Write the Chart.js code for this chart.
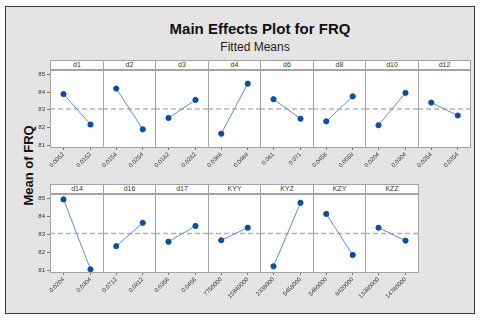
<!DOCTYPE html>
<html>
<head>
<meta charset="utf-8">
<script src="https://cdn.jsdelivr.net/npm/chart.js@4.4.0/dist/chart.umd.min.js"></script>
<style>
  body { margin: 0; background: #fff; font-family: "Liberation Sans", Arial, sans-serif; }
  #frame { position: absolute; left: 5px; top: 6px; width: 468px; height: 306px; background: #e4e4e4; border: 1px solid #3a3a3a; }
  .txt { position: absolute; text-align: center; color: #111; white-space: nowrap; }
  .strip { position: absolute; box-sizing: border-box; height: 10px; background: #fff; border: 1px solid #a4a4a4;
           font-size: 7px; line-height: 8px; text-align: center; color: #333; }
  .panel { position: absolute; }
</style>
</head>
<body>
<div id="frame"></div>
<div class="txt" style="left:0;width:520px;top:20px;font-size:15px;font-weight:bold;">Main Effects Plot for FRQ</div>
<div class="txt" style="left:0;width:510px;top:40px;font-size:12px;color:#222;">Fitted Means</div>
<div class="txt" style="left:-12px;width:80px;top:158px;font-size:13px;font-weight:bold;transform:rotate(-90deg);">Mean of FRQ</div>
<div id="panels"></div>

<script>
// factors, in the order of the panels
const factors = ['d1', 'd2', 'd3', 'd4', 'd6', 'd8', 'd10', 'd12',
                 'd14', 'd16', 'd17', 'KYY', 'KYZ', 'KZY', 'KZZ'];
// level labels (low / high) for each factor
const lowLevels  = ['0.0052', '0.0154', '0.0182', '0.0368', '0.061', '0.0458', '0.0204', '0.0254',
                    '0.0204', '0.0712', '0.0356', '7750000', '2338000', '5460000', '13380000'];
const highLevels = ['0.0152', '0.0254', '0.0282', '0.0468', '0.071', '0.0558', '0.0304', '0.0354',
                    '0.0304', '0.0812', '0.0456', '15940000', '5458000', '8420000', '14780000'];
// fitted means of FRQ at each level
const lowMeans  = [83.89, 84.20, 82.54, 81.65, 83.60, 82.35, 82.13, 83.41,
                   84.95, 82.34, 82.59, 82.67, 81.22, 84.14, 83.37];
const highMeans = [82.17, 81.90, 83.56, 84.48, 82.50, 83.76, 83.96, 82.68,
                   81.05, 83.64, 83.47, 83.37, 84.76, 81.85, 82.65];
const grandMean = 83.05;
const yTicks = [81, 82, 83, 84, 85];

const perRow = 8;
const rowTops = [70, 194];
const plotHeights = [77, 78];
const axisW = 22;      // room left of each plot (y axis on the first panel)
const xAxisH = 30;     // room for the rotated level labels

const blue = '#0a4fa3';
const lineBlue = '#5c8fd2';
const frameGray = '#a4a4a4';

// white plot area, border and the dashed grand mean line
const panelPlugin = {
    id: 'panelDeco',
    beforeDraw(chart) {
        const a = chart.chartArea, ctx = chart.ctx;
        ctx.save();
        ctx.fillStyle = '#fff';
        ctx.fillRect(a.left, a.top, a.right - a.left, a.bottom - a.top);
        const y = chart.scales.y.getPixelForValue(grandMean);
        ctx.strokeStyle = '#b4b4b4';
        ctx.lineWidth = 1.5;
        ctx.setLineDash([5, 3]);
        ctx.beginPath();
        ctx.moveTo(a.left, y);
        ctx.lineTo(a.right, y);
        ctx.stroke();
        ctx.restore();
    },
    afterDraw(chart) {
        const a = chart.chartArea, ctx = chart.ctx;
        ctx.save();
        ctx.strokeStyle = frameGray;
        ctx.lineWidth = 1;
        ctx.strokeRect(a.left + 0.5, a.top + 0.5, a.right - a.left - 1, a.bottom - a.top);
        ctx.restore();
    }
};

function makePanel(i) {
    const row = Math.floor(i / perRow);
    const col = i % perRow;
    const left = Math.round(50 + col * 52.5);
    const right = Math.round(50 + (col + 1) * 52.5);
    const w = right - left;
    const top = rowTops[row];
    const h = plotHeights[row];

    const strip = document.createElement('div');
    strip.className = 'strip';
    strip.style.left = left + 'px';
    strip.style.top = (top - 10) + 'px';
    strip.style.width = (w + 1) + 'px';
    strip.textContent = factors[i];

    const box = document.createElement('div');
    box.className = 'panel';
    box.style.left = (left - axisW) + 'px';
    box.style.top = top + 'px';
    box.style.width = (w + axisW + 1) + 'px';
    box.style.height = (h + xAxisH) + 'px';
    const canvas = document.createElement('canvas');
    box.appendChild(canvas);
    document.getElementById('panels').appendChild(box);
    document.getElementById('panels').appendChild(strip);

    // only the first panel of a row shows its y labels
    const first = col === 0;
    const yInk = first ? '#333' : 'rgba(0,0,0,0)';
    const yTickInk = first ? '#777' : 'rgba(0,0,0,0)';
    new Chart(canvas, {
        type: 'line',
        data: {
            labels: [lowLevels[i], highLevels[i]],
            datasets: [{
                data: [lowMeans[i], highMeans[i]],
                borderColor: lineBlue,
                borderWidth: 1,
                pointRadius: 2.6,
                pointBackgroundColor: blue,
                pointBorderColor: blue,
                tension: 0
            }]
        },
        options: {
            responsive: true,
            maintainAspectRatio: false,
            animation: false,
            layout: { padding: 0, autoPadding: false },
            plugins: { legend: { display: false }, tooltip: { enabled: false } },
            scales: {
                x: {
                    type: 'category',
                    offset: true,
                    grid: { drawOnChartArea: false, drawTicks: true, tickLength: 3, color: '#777' },
                    border: { display: false },
                    ticks: {
                        minRotation: 45, maxRotation: 45, autoSkip: false, padding: 1,
                        color: '#333', font: { size: 6, family: 'Liberation Sans' }
                    },
                    afterFit(s) { s.height = xAxisH; s.paddingLeft = 0; s.paddingRight = 0; }
                },
                y: {
                    min: 80.9,
                    max: 85.25,
                    afterBuildTicks(s) { s.ticks = yTicks.map(v => ({ value: v })); },
                    grid: { drawOnChartArea: false, drawTicks: true, tickLength: 3, color: yTickInk },
                    border: { display: false },
                    ticks: { padding: 2, color: yInk, font: { size: 6, family: 'Liberation Sans' } },
                    afterFit(s) { s.width = axisW; s.paddingTop = 0; s.paddingBottom = 0; }
                }
            }
        },
        plugins: [panelPlugin]
    });
}

factors.forEach((f, i) => makePanel(i));
</script>
</body>
</html>
